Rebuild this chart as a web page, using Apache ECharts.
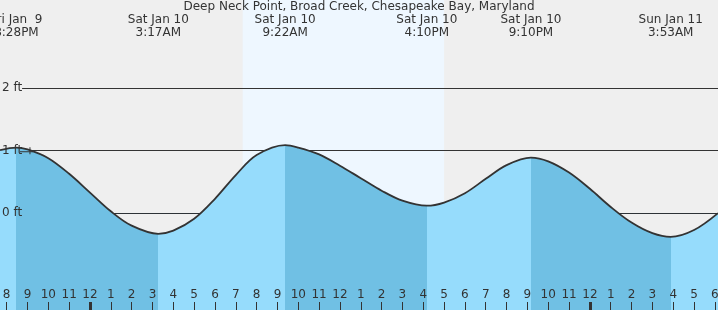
<!DOCTYPE html>
<html><head><meta charset="utf-8">
<script src="https://cdn.jsdelivr.net/npm/echarts@6/dist/echarts.min.js"></script>
<style>html,body{margin:0;padding:0;background:#efefef}#c{width:718px;height:310px}</style>
</head><body><div id="c"></div>
<script>
// ---- data (hours measured from Sat Jan 10 00:00) ----
const titleText = 'Deep Neck Point, Broad Creek, Chesapeake Bay, Maryland';
const tideHours = [-4.32, -3.53, -3, -2, -1, 0, 1, 2, 3.28, 4, 5, 6, 7, 8, 9.37, 10, 11, 12, 13, 14, 15, 16.17, 17, 18, 19, 20, 21.17, 22, 23, 24, 25, 26, 27, 27.88, 29, 30.15];
const tideFeet  = [1.01, 1.05, 1.02, 0.88, 0.63, 0.33, 0.03, -0.20, -0.33, -0.28, -0.09, 0.23, 0.61, 0.93, 1.09, 1.05, 0.94, 0.76, 0.56, 0.36, 0.20, 0.12, 0.17, 0.32, 0.55, 0.77, 0.89, 0.83, 0.65, 0.39, 0.10, -0.15, -0.32, -0.38, -0.27, 0.0];
const extremeHours = [-3.53, 3.28, 9.37, 16.17, 21.17, 27.88];
const extremeLabels = ['Fri Jan  9\n8:28PM', 'Sat Jan 10\n3:17AM', 'Sat Jan 10\n9:22AM', 'Sat Jan 10\n4:10PM', 'Sat Jan 10\n9:10PM', 'Sun Jan 11\n3:53AM'];
const hourTicks = [-4, -3, -2, -1, 0, 1, 2, 3, 4, 5, 6, 7, 8, 9, 10, 11, 12, 13, 14, 15, 16, 17, 18, 19, 20, 21, 22, 23, 24, 25, 26, 27, 28, 29, 30];
const midnightTicks = [0, 24];
const footTicks = [0, 1, 2];
const guideFeet = [2, 1, 0];
const daylightHours = [7.33, 17.0];
const markerHours = [-3.05];
const markerFeet = [1.0];

// ---- layout / style ----
const xMin = -4.32, xMax = 30.15, yMin = -1.549, yMax = 3.411;
const lineStartHour = -3.26;
const LIGHT = '#96dcfc', DARK = '#70c0e4', TXT = '#333333';

const curve = tideHours.map((h, i) => [h, tideFeet[i]]);
const pieces = [];
for (let i = 0; i <= extremeHours.length; i++) {
  const p = { color: i % 2 === 0 ? LIGHT : DARK };
  if (i > 0) p.gte = extremeHours[i - 1];
  if (i < extremeHours.length) p.lt = extremeHours[i];
  pieces.push(p);
}
function nearestLabel(v) {
  let best = 0;
  for (let i = 1; i < extremeHours.length; i++) if (Math.abs(extremeHours[i] - v) < Math.abs(extremeHours[best] - v)) best = i;
  return extremeLabels[best];
}
const font = { fontFamily: 'DejaVu Sans', fontSize: 12, color: TXT };

const chart = echarts.init(document.getElementById('c'), null, { renderer: 'canvas' });
chart.setOption({
  animation: false,
  backgroundColor: '#efefef',
  textStyle: { fontFamily: 'DejaVu Sans' },
  title: { zlevel: 1, text: titleText, left: 'center', top: 0, padding: 0, textStyle: Object.assign({ fontWeight: 'normal', lineHeight: 14 }, font) },
  grid: { left: 0, right: 0, top: 0, bottom: 0, containLabel: false, outerBoundsMode: 'none' },
  xAxis: [
    { type: 'value', min: xMin, max: xMax, position: 'bottom', zlevel: 1, z: 10,
      axisLine: { show: false, onZero: false }, splitLine: { show: false },
      axisTick: { show: true, inside: true, length: 8, customValues: hourTicks, lineStyle: { color: TXT, width: 1 } },
      axisLabel: Object.assign({ inside: true, margin: 9, customValues: hourTicks, showMinLabel: true, showMaxLabel: true,
        formatter: v => { const h = ((Math.round(v) % 12) + 12) % 12; return String(h === 0 ? 12 : h); } }, font) },
    { type: 'value', min: xMin, max: xMax, position: 'bottom', zlevel: 1, z: 11,
      axisLine: { show: false, onZero: false }, splitLine: { show: false },
      axisTick: { show: true, inside: true, length: 8, customValues: midnightTicks, lineStyle: { color: TXT, width: 3 } },
      axisLabel: { show: false } },
    { type: 'value', min: xMin, max: xMax, position: 'top', zlevel: 1, z: 10,
      axisLine: { show: false, onZero: false }, splitLine: { show: false }, axisTick: { show: false },
      axisLabel: Object.assign({ inside: true, margin: 13, lineHeight: 13, align: 'center', customValues: extremeHours,
        showMinLabel: true, showMaxLabel: true, formatter: v => nearestLabel(v) }, font) }
  ],
  yAxis: { type: 'value', min: yMin, max: yMax, zlevel: 1, z: 10,
    axisLine: { show: false }, splitLine: { show: false }, axisTick: { show: false },
    axisLabel: Object.assign({ inside: true, margin: 2, customValues: footTicks, formatter: v => v + ' ft' }, font) },
  visualMap: { type: 'piecewise', show: false, dimension: 0, seriesIndex: 2, pieces: pieces },
  series: [
    { name: 'daylight', type: 'line', data: [], zlevel: 0, z: 0, silent: true,
      markArea: { silent: true, itemStyle: { color: '#eef7ff' }, data: [[{ xAxis: daylightHours[0] }, { xAxis: daylightHours[1] }]] } },
    { name: 'guides', type: 'line', data: [], zlevel: 0, z: 1, silent: true,
      markLine: { silent: true, symbol: ['none', 'none'], label: { show: false },
        lineStyle: { color: TXT, width: 1, type: 'solid' },
        data: guideFeet.map(f => [{ coord: [lineStartHour, f] }, { coord: [xMax, f] }]) } },
    { name: 'fill', type: 'line', data: curve, smooth: 0.35, showSymbol: false, zlevel: 1, z: 2, silent: true,
      lineStyle: { width: 0, opacity: 0 }, areaStyle: { opacity: 1, origin: 'start' } },
    { name: 'datum', type: 'line', data: [], zlevel: 1, z: 3, silent: true,
      markLine: { silent: true, symbol: ['none', 'none'], label: { show: false },
        lineStyle: { color: 'rgba(0,50,90,0.10)', width: 1, type: 'solid' },
        data: [[{ coord: [lineStartHour, 0] }, { coord: [xMax, 0] }]] } },
    { name: 'tide', type: 'line', data: curve, smooth: 0.35, showSymbol: false, zlevel: 1, z: 4, silent: true,
      lineStyle: { color: TXT, width: 1.8 }, itemStyle: { color: TXT } },
    { name: 'marker', type: 'scatter', zlevel: 1, z: 5, silent: true,
      data: markerHours.map((h, i) => [h, markerFeet[i]]),
      symbol: 'path://M0,4L13,4L13,5L0,5Z M9.5,0L10.5,0L10.5,7L9.5,7Z', symbolSize: [13, 7],
      itemStyle: { color: TXT, opacity: 1 } }
  ]
});
</script></body></html>
